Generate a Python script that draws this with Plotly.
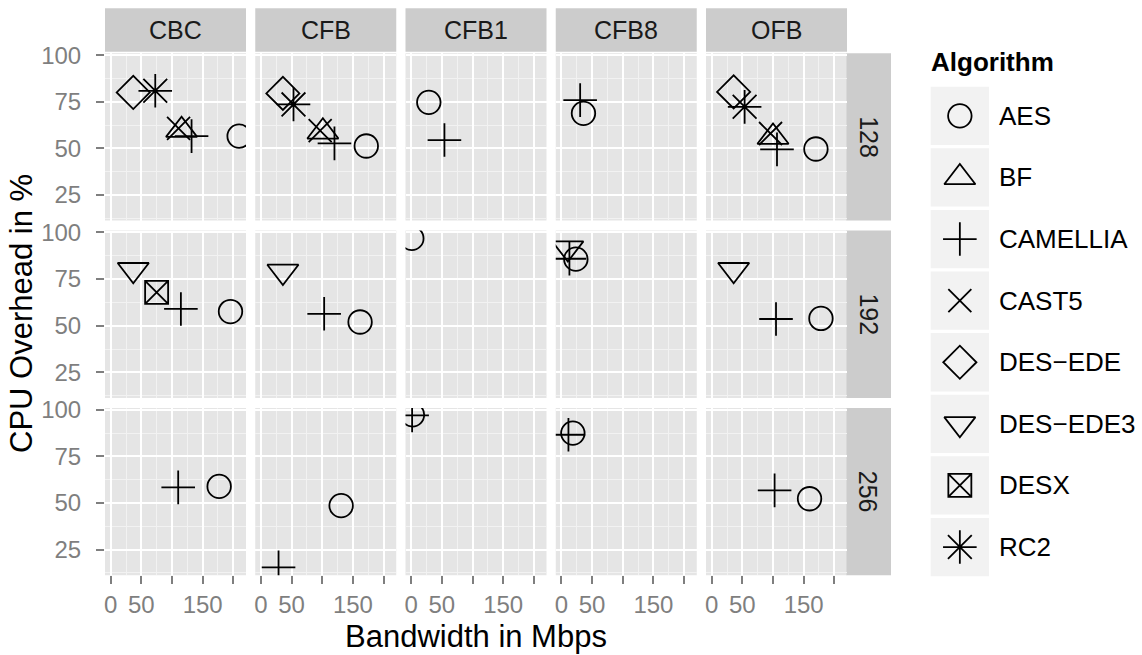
import plotly.graph_objects as go

# ---- data -------------------------------------------------------------
modes = ["CBC", "CFB", "CFB1", "CFB8", "OFB"]
key_sizes = [128, 192, 256]
algorithms = ["AES", "BF", "CAMELLIA", "CAST5", "DES-EDE", "DES-EDE3", "DESX", "RC2"]
algorithm_labels = ["AES", "BF", "CAMELLIA", "CAST5", "DES\u2212EDE", "DES\u2212EDE3", "DESX", "RC2"]

rec_mode = [
    "CBC", "CBC", "CBC", "CBC", "CBC", "CBC",
    "CFB", "CFB", "CFB", "CFB", "CFB", "CFB",
    "CFB1", "CFB1",
    "CFB8", "CFB8",
    "OFB", "OFB", "OFB", "OFB", "OFB", "OFB",
    "CBC", "CBC", "CBC", "CBC",
    "CFB", "CFB", "CFB",
    "CFB1",
    "CFB8", "CFB8", "CFB8",
    "OFB", "OFB", "OFB",
    "CBC", "CBC",
    "CFB", "CFB",
    "CFB1", "CFB1",
    "CFB8", "CFB8",
    "OFB", "OFB",
]
rec_key = [
    128, 128, 128, 128, 128, 128,
    128, 128, 128, 128, 128, 128,
    128, 128,
    128, 128,
    128, 128, 128, 128, 128, 128,
    192, 192, 192, 192,
    192, 192, 192,
    192,
    192, 192, 192,
    192, 192, 192,
    256, 256,
    256, 256,
    256, 256,
    256, 256,
    256, 256,
]
rec_algo = [
    "DES-EDE", "RC2", "BF", "CAST5", "CAMELLIA", "AES",
    "DES-EDE", "RC2", "BF", "CAST5", "CAMELLIA", "AES",
    "AES", "CAMELLIA",
    "CAMELLIA", "AES",
    "DES-EDE", "RC2", "BF", "CAST5", "CAMELLIA", "AES",
    "DES-EDE3", "DESX", "CAMELLIA", "AES",
    "DES-EDE3", "CAMELLIA", "AES",
    "AES",
    "DES-EDE3", "CAMELLIA", "AES",
    "DES-EDE3", "CAMELLIA", "AES",
    "CAMELLIA", "AES",
    "CAMELLIA", "AES",
    "CAMELLIA", "AES",
    "CAMELLIA", "AES",
    "CAMELLIA", "AES",
]
bandwidth = [
    36.8, 72.7, 115.6, 110.7, 131.9, 209.5,
    35.8, 53.1, 101.0, 96.6, 119.9, 171.8,
    28.7, 54.2,
    30.5, 35.9,
    35.8, 53.7, 100.0, 96.0, 106.5, 170.0,
    36.8, 74.9, 114.5, 195.4,
    35.8, 103.1, 161.7,
    1.0,
    10.4, 13.0, 23.5,
    35.8, 104.9, 178.2,
    110.1, 176.9,
    28.7, 130.8,
    1.5, 2.0,
    11.4, 18.6,
    102.6, 159.6,
]
cpu = [
    80.0, 80.9, 59.8, 60.7, 56.6, 56.6,
    79.5, 73.6, 58.9, 59.5, 52.7, 51.3,
    74.7, 54.5,
    75.9, 68.8,
    80.3, 72.3, 56.1, 58.0, 49.5, 49.7,
    80.0, 67.9, 59.0, 57.6,
    79.1, 56.4, 52.0,
    96.8,
    91.6, 85.9, 85.7,
    80.0, 53.6, 53.9,
    58.4, 58.9,
    15.5, 48.6,
    97.0, 97.3,
    86.6, 87.5,
    56.8, 52.3,
]

x_tickvals = [0, 50, 100, 150, 200]
x_ticktext = ["0", "50", "", "150", ""]
y_tickvals = [25, 50, 75, 100]

# ---- styling -----------------------------------------------------------
W, H = 1142, 655
FONT = "Liberation Sans, Arial, Helvetica, sans-serif"
PANEL_BG = "#E5E5E5"
STRIP_BG = "#CCCCCC"
MINOR = "#F2F2F2"
TICK_GREY = "#7F7F7F"

symbol_of = {
    "AES": "circle-open",
    "BF": "triangle-up-open",
    "CAMELLIA": "cross-thin-open",
    "CAST5": "x-thin-open",
    "DES-EDE": "diamond-open",
    "DES-EDE3": "triangle-down-open",
    "DESX": "square-x-open",
    "RC2": "asterisk-open",
}
size_of = {
    "AES": 23.5, "BF": 27, "CAMELLIA": 24, "CAST5": 23,
    "DES-EDE": 25.5, "DES-EDE3": 27, "DESX": 23, "RC2": 28,
}
LINE_W = 1.8

# panel geometry (pixels)
col_left = [105 + i * 150.25 for i in range(len(modes))]
panel_w = 141
row_top = [53.3 + j * 177.3 for j in range(len(key_sizes))]
panel_h = 167.3
x_range = [-9.3, 220.7]
y_range = [11.3, 101.0]


def px_x(p):
    return p / W


def px_y(p):
    return 1 - p / H


fig = go.Figure()
shapes = []
annotations = []
layout_axes = {}

for r, ks in enumerate(key_sizes):
    for c, mode in enumerate(modes):
        n = r * len(modes) + c + 1
        xname = "x" if n == 1 else f"x{n}"
        yname = "y" if n == 1 else f"y{n}"
        x0, x1 = col_left[c], col_left[c] + panel_w
        y0, y1 = row_top[r], row_top[r] + panel_h

        # panel background
        shapes.append(dict(type="rect", xref="paper", yref="paper",
                           x0=px_x(x0), x1=px_x(x1), y0=px_y(y1), y1=px_y(y0),
                           fillcolor=PANEL_BG, line=dict(width=0), layer="below"))

        bottom = r == len(key_sizes) - 1
        left = c == 0
        layout_axes["xaxis" if n == 1 else f"xaxis{n}"] = dict(
            domain=[px_x(x0), px_x(x1)], anchor=yname, range=x_range,
            tickvals=x_tickvals, ticktext=x_ticktext,
            showticklabels=bottom, ticks="outside" if bottom else "",
            ticklen=8, tickwidth=2, tickcolor=TICK_GREY,
            tickfont=dict(family=FONT, size=24, color=TICK_GREY),
            showgrid=True, gridcolor="white", gridwidth=2,
            minor=dict(tickvals=[25, 75, 125, 175], showgrid=True,
                       gridcolor=MINOR, gridwidth=1, ticks=""),
            zeroline=False, showline=False, fixedrange=True, automargin=False,
        )
        layout_axes["yaxis" if n == 1 else f"yaxis{n}"] = dict(
            domain=[px_y(y1), px_y(y0)], anchor=xname, range=y_range,
            tickvals=y_tickvals, showticklabels=left,
            ticks="outside" if left else "",
            ticklen=8, tickwidth=2, tickcolor=TICK_GREY, ticklabelstandoff=10,
            tickfont=dict(family=FONT, size=24, color=TICK_GREY),
            showgrid=True, gridcolor="white", gridwidth=2,
            minor=dict(tickvals=[12.5, 37.5, 62.5, 87.5], showgrid=True,
                       gridcolor=MINOR, gridwidth=1, ticks=""),
            zeroline=False, showline=False, fixedrange=True, automargin=False,
        )

        # points for this facet
        for algo in algorithms:
            idx = [i for i in range(len(rec_mode))
                   if rec_mode[i] == mode and rec_key[i] == ks and rec_algo[i] == algo]
            if not idx:
                continue
            fig.add_trace(go.Scatter(
                x=[bandwidth[i] for i in idx], y=[cpu[i] for i in idx],
                xaxis=xname, yaxis=yname, mode="markers", showlegend=False,
                marker=dict(symbol=symbol_of[algo], size=size_of[algo], color="black",
                            line=dict(color="black", width=LINE_W)),
                hoverinfo="skip",
            ))

# top strips (mode)
for c, mode in enumerate(modes):
    x0, x1 = col_left[c], col_left[c] + panel_w
    shapes.append(dict(type="rect", xref="paper", yref="paper",
                       x0=px_x(x0), x1=px_x(x1), y0=px_y(51.8), y1=px_y(8.3),
                       fillcolor=STRIP_BG, line=dict(width=0), layer="below"))
    annotations.append(dict(text=mode, xref="paper", yref="paper",
                            x=px_x((x0 + x1) / 2), y=px_y(30), showarrow=False,
                            xanchor="center", yanchor="middle",
                            font=dict(family=FONT, size=25, color="#1A1A1A")))

# right strips (key size)
for r, ks in enumerate(key_sizes):
    y0, y1 = row_top[r], row_top[r] + panel_h
    shapes.append(dict(type="rect", xref="paper", yref="paper",
                       x0=px_x(846.5), x1=px_x(891), y0=px_y(y1), y1=px_y(y0),
                       fillcolor=STRIP_BG, line=dict(width=0), layer="below"))
    annotations.append(dict(text=str(ks), xref="paper", yref="paper",
                            x=px_x(868.8), y=px_y((y0 + y1) / 2), showarrow=False,
                            textangle=90, xanchor="center", yanchor="middle",
                            font=dict(family=FONT, size=25, color="#1A1A1A")))

# axis titles
annotations.append(dict(text="Bandwidth in Mbps", xref="paper", yref="paper",
                        x=px_x(476), y=px_y(636), showarrow=False,
                        xanchor="center", yanchor="middle",
                        font=dict(family=FONT, size=31, color="black")))
annotations.append(dict(text="CPU Overhead in %", xref="paper", yref="paper",
                        x=px_x(22), y=px_y(314), showarrow=False, textangle=-90,
                        xanchor="center", yanchor="middle",
                        font=dict(family=FONT, size=31, color="black")))

# legend: title, key boxes, symbols and labels
annotations.append(dict(text="<b>Algorithm</b>", xref="paper", yref="paper",
                        x=px_x(929), y=px_y(62), showarrow=False,
                        xanchor="left", yanchor="middle",
                        font=dict(family=FONT, size=26, color="black")))
key_top0, key_pitch, key_h = 86.7, 61.6, 58.3
key_x0, key_x1 = 930.7, 989
leg_n = len(key_sizes) * len(modes) + 1
for k, (algo, label) in enumerate(zip(algorithms, algorithm_labels)):
    top = key_top0 + k * key_pitch
    shapes.append(dict(type="rect", xref="paper", yref="paper",
                       x0=px_x(key_x0), x1=px_x(key_x1),
                       y0=px_y(top + key_h), y1=px_y(top),
                       fillcolor=MINOR, line=dict(width=0), layer="below"))
    annotations.append(dict(text=label, xref="paper", yref="paper",
                            x=px_x(997), y=px_y(top + key_h / 2), showarrow=False,
                            xanchor="left", yanchor="middle",
                            font=dict(family=FONT, size=26, color="black")))
    fig.add_trace(go.Scatter(
        x=[(key_x0 + key_x1) / 2], y=[top + key_h / 2],
        xaxis=f"x{leg_n}", yaxis=f"y{leg_n}", mode="markers", showlegend=False,
        marker=dict(symbol=symbol_of[algo], size=size_of[algo], color="black",
                    line=dict(color="black", width=LINE_W)),
        hoverinfo="skip", cliponaxis=False,
    ))

layout_axes[f"xaxis{leg_n}"] = dict(domain=[0, 1], range=[0, W], visible=False,
                                    anchor=f"y{leg_n}", fixedrange=True, automargin=False)
layout_axes[f"yaxis{leg_n}"] = dict(domain=[0, 1], range=[H, 0], visible=False,
                                    anchor=f"x{leg_n}", fixedrange=True, automargin=False)

fig.update_layout(
    template="none",
    width=W, height=H, autosize=False,
    margin=dict(l=0, r=0, t=0, b=0, pad=0),
    paper_bgcolor="white", plot_bgcolor="rgba(0,0,0,0)",
    font=dict(family=FONT),
    shapes=shapes, annotations=annotations,
    showlegend=False,
    **layout_axes,
)

fig.write_html("out.html")
